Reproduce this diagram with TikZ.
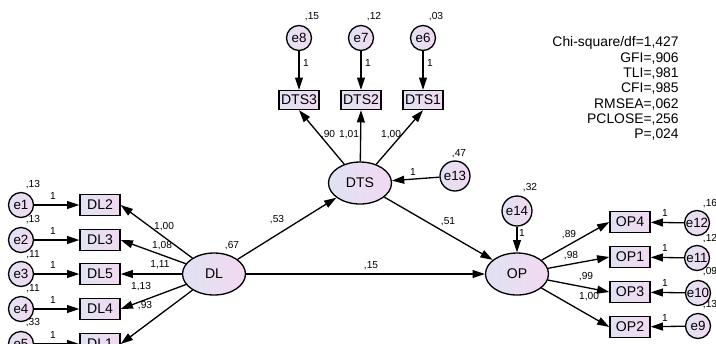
\documentclass[tikz,border=0pt]{standalone}
\usepackage{fontspec}
\setmainfont{Liberation Sans}
\usetikzlibrary{arrows.meta,shapes.geometric}
\definecolor{fa}{HTML}{E0E2F3}
\definecolor{fb}{HTML}{F2D9F1}
\begin{document}
\begin{tikzpicture}[x=0.02cm,y=-0.02cm,
  every node/.style={font=\fontsize{8}{9}\selectfont},
  nodefill/.style={draw, line width=0.75pt, left color=fa, right color=fb},
  obsbox/.style={nodefill, rectangle, minimum width=0.8cm, minimum height=0.42cm, inner sep=0pt},
  dtsbox/.style={obsbox, minimum height=0.38cm},
  latent/.style={nodefill, ellipse, minimum width=1.26cm, minimum height=0.84cm, inner sep=0pt},
  errc/.style={nodefill, circle, minimum size=0.5cm, inner sep=0pt, font=\fontsize{7.6}{9}\selectfont},
  errbig/.style={errc, minimum size=0.6cm},
  num/.style={font=\fontsize{5.8}{6}\selectfont, inner sep=0pt},
  stat/.style={anchor=east, inner sep=0pt, font=\fontsize{7.9}{9}\selectfont},
  arr/.style={-{Triangle[length=7pt,width=4.5pt]}, line width=0.75pt},
]
\useasboundingbox (0,0) rectangle (716,343);
\clip (0,0) rectangle (716,343);

% latent variables
\node[latent] (DL) at (214,274) {DL};
\node[latent] (DTS) at (360,183) {DTS};
\node[latent] (OP) at (517,274) {OP};

% DL indicators
\node[obsbox] (DL2) at (100,205) {DL2};
\node[obsbox] (DL3) at (100,240) {DL3};
\node[obsbox] (DL5) at (100,274) {DL5};
\node[obsbox] (DL4) at (100,309) {DL4};
\node[obsbox] (DL1) at (100,344) {DL1};
\node[errc] (e1) at (21,205) {e1};
\node[errc] (e2) at (21,240) {e2};
\node[errc] (e3) at (21,274) {e3};
\node[errc] (e4) at (21,309) {e4};
\node[errc] (e5) at (21,344) {e5};

% DTS indicators
\node[dtsbox] (DTS3) at (299,100) {DTS3};
\node[dtsbox] (DTS2) at (361,100) {DTS2};
\node[dtsbox] (DTS1) at (423,100) {DTS1};
\node[errc] (e8) at (299,38) {e8};
\node[errc] (e7) at (361,38) {e7};
\node[errc] (e6) at (423,38) {e6};

% disturbances
\node[errbig] (e13) at (455,176) {e13};
\node[errbig] (e14) at (517,211) {e14};

% OP indicators
\node[obsbox] (OP4) at (630,222) {OP4};
\node[obsbox] (OP1) at (630,257) {OP1};
\node[obsbox] (OP3) at (630,292) {OP3};
\node[obsbox] (OP2) at (630,327) {OP2};
\node[errc] (e12) at (697,223) {e12};
\node[errc] (e11) at (697,258) {e11};
\node[errc] (e10) at (698,293) {e10};
\node[errc] (e9) at (698,326) {e9};

% arrows
\foreach \e/\b in {e1/DL2,e2/DL3,e3/DL5,e4/DL4,e5/DL1}
  \draw[arr] (\e) -- (\b);
\foreach \b in {DL2,DL3,DL5,DL4,DL1}
  \draw[arr] (DL) -- (\b.east);
\foreach \e/\b in {e8/DTS3,e7/DTS2,e6/DTS1}
  \draw[arr] (\e) -- (\b);
\foreach \b in {DTS3,DTS2,DTS1}
  \draw[arr] (DTS) -- (\b.south);
\foreach \e/\b in {e12/OP4,e11/OP1,e10/OP3,e9/OP2}
  \draw[arr] (\e) -- (\b);
\foreach \b in {OP4,OP1,OP3,OP2}
  \draw[arr] (OP) -- (\b.west);
\draw[arr] (DL) -- (DTS);
\draw[arr] (DTS) -- (OP);
\draw[arr] (DL) -- (OP);
\draw[arr] (e13) -- (DTS);
\draw[arr] (e14) -- (OP);

% fixed loadings "1"
\node[num] (o1) at (53,196) {1};
\node[num] (o2) at (53,231) {1};
\node[num] (o3) at (53,265) {1};
\node[num] (o4) at (53,300) {1};
\node[num] (o5) at (53,335) {1};
\node[num] (o6) at (306,63) {1};
\node[num] (o7) at (368,63) {1};
\node[num] (o8) at (430,63) {1};
\node[num] (o9) at (413,172) {1};
\node[num] (o10) at (522,233) {1};
\node[num] (o11) at (665,213) {1};
\node[num] (o12) at (665,248) {1};
\node[num] (o13) at (665,283) {1};
\node[num] (o14) at (665,318) {1};

% variances
\node[num] (v1) at (33,185) {,13};
\node[num] (v2) at (33,220) {,13};
\node[num] (v3) at (33,255) {,11};
\node[num] (v4) at (33,289) {,11};
\node[num] (v5) at (33,323) {,33};
\node[num] (v6) at (232,246) {,67};
\node[num] (v7) at (312,17) {,15};
\node[num] (v8) at (374,17) {,12};
\node[num] (v9) at (436,17) {,03};
\node[num] (v10) at (459,154) {,47};
\node[num] (v11) at (530,188) {,32};
\node[num] (v12) at (710,204) {,16};
\node[num] (v13) at (710,239) {,12};
\node[num] (v14) at (710,272) {,09};
\node[num] (v15) at (710,305) {,13};

% estimated loadings / paths
\node[num] (w1) at (164,227) {1,00};
\node[num] (w2) at (162,246) {1,08};
\node[num] (w3) at (160,265) {1,11};
\node[num] (w4) at (141,287) {1,13};
\node[num] (w5) at (145,306) {,93};
\node[num] (w6) at (328,135) {,90};
\node[num] (w7) at (349,135) {1,01};
\node[num] (w8) at (391,135) {1,00};
\node[num] (w9) at (277,220) {,53};
\node[num] (w10) at (448,222) {,51};
\node[num] (w11) at (371,266) {,15};
\node[num] (w12) at (569,235) {,89};
\node[num] (w13) at (571,256) {,98};
\node[num] (w14) at (586,277) {,99};
\node[num] (w15) at (589,297) {1,00};

% fit indices
\node[stat] (s1) at (679,43) {Chi-square/df=1,427};
\node[stat] (s2) at (679,59) {GFI=,906};
\node[stat] (s3) at (679,74) {TLI=,981};
\node[stat] (s4) at (679,89) {CFI=,985};
\node[stat] (s5) at (679,105) {RMSEA=,062};
\node[stat] (s6) at (679,120) {PCLOSE=,256};
\node[stat] (s7) at (679,135) {P=,024};
\end{tikzpicture}
\end{document}
